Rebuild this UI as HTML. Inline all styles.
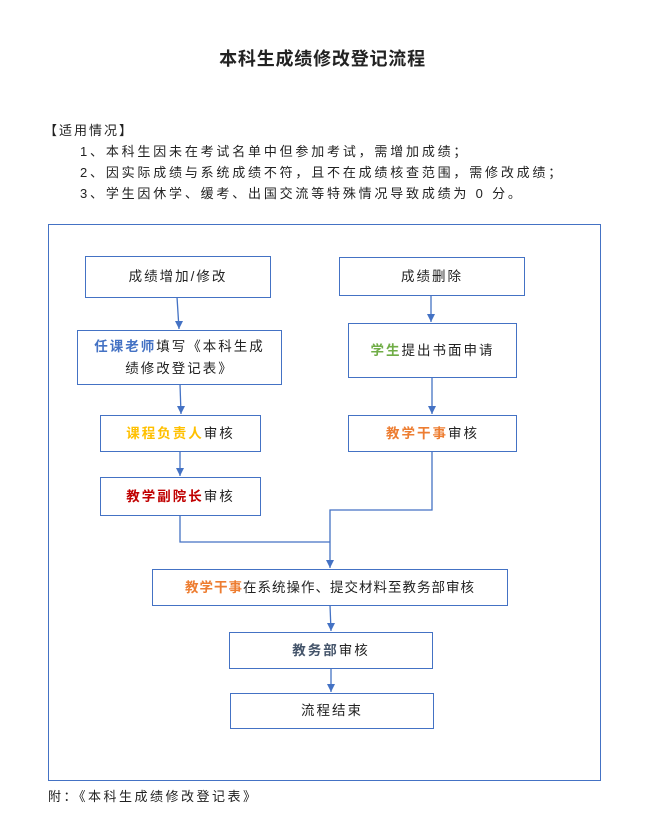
<!DOCTYPE html>
<html><head><meta charset="utf-8"><style>
body{margin:0;width:645px;height:814px;background:#fff;font-family:"Liberation Sans","Noto Sans CJK SC",sans-serif;position:relative;overflow:hidden;color:#222}
.t{position:absolute;white-space:nowrap;font-size:13px;letter-spacing:2.8px}
.b{position:absolute;border:1.3px solid #4472c4;box-sizing:border-box;display:flex;align-items:center;justify-content:center;text-align:center;font-size:13.5px;letter-spacing:2px;line-height:22px;background:#fff}
.k{font-weight:bold}
</style></head><body>
<div class="t" style="left:0;width:645px;text-align:center;top:45px;font-size:18px;font-weight:bold;letter-spacing:0.8px">本科生成绩修改登记流程</div>
<div class="t" style="left:44px;top:120px;letter-spacing:2px">【适用情况】</div>
<div class="t" style="left:80px;top:141px">1、本科生因未在考试名单中但参加考试，需增加成绩；</div>
<div class="t" style="left:80px;top:162px">2、因实际成绩与系统成绩不符，且不在成绩核查范围，需修改成绩；</div>
<div class="t" style="left:80px;top:183px">3、学生因休学、缓考、出国交流等特殊情况导致成绩为 0 分。</div>
<div style="position:absolute;left:48px;top:224px;width:553px;height:557px;border:1.3px solid #4472c4;box-sizing:border-box"></div>
<svg style="position:absolute;left:0;top:0" width="645" height="814">
<defs><marker id="a" markerWidth="8" markerHeight="8" refX="4" refY="8" orient="0" markerUnits="userSpaceOnUse"><path d="M0,0 L8,0 L4,8z" fill="#4472c4"/></marker></defs>
<g stroke="#4472c4" stroke-width="1.3" fill="none">
<path d="M177,297 L179,329" marker-end="url(#a)"/>
<path d="M180,384 L181,414" marker-end="url(#a)"/>
<path d="M180,451 L180,476" marker-end="url(#a)"/>
<path d="M431,295 L431,322" marker-end="url(#a)"/>
<path d="M432,377 L432,414" marker-end="url(#a)"/>
<path d="M180,515 L180,542 L330,542"/>
<path d="M432,451 L432,510 L330,510 L330,568" marker-end="url(#a)"/>
<path d="M330,605 L331,631" marker-end="url(#a)"/>
<path d="M331,668 L331,692" marker-end="url(#a)"/>
</g></svg>
<div class="b" style="left:85px;top:256px;width:186px;height:42px">成绩增加/修改</div>
<div class="b" style="left:339px;top:257px;width:186px;height:39px">成绩删除</div>
<div class="b" style="left:77px;top:330px;width:205px;height:55px"><span><span class="k" style="color:#4472c4">任课老师</span>填写《本科生成<br>绩修改登记表》</span></div>
<div class="b" style="left:348px;top:323px;width:169px;height:55px"><span><span class="k" style="color:#70ad47">学生</span>提出书面申请</span></div>
<div class="b" style="left:100px;top:415px;width:161px;height:37px"><span><span class="k" style="color:#ffc000">课程负责人</span>审核</span></div>
<div class="b" style="left:348px;top:415px;width:169px;height:37px"><span><span class="k" style="color:#ed7d31">教学干事</span>审核</span></div>
<div class="b" style="left:100px;top:477px;width:161px;height:39px"><span><span class="k" style="color:#c00000">教学副院长</span>审核</span></div>
<div class="b" style="left:152px;top:569px;width:356px;height:37px;letter-spacing:1px"><span><span class="k" style="color:#ed7d31">教学干事</span>在系统操作、提交材料至教务部审核</span></div>
<div class="b" style="left:229px;top:632px;width:204px;height:37px"><span><span class="k" style="color:#44546a">教务部</span>审核</span></div>
<div class="b" style="left:230px;top:693px;width:204px;height:36px">流程结束</div>
<div class="t" style="left:48px;top:786px;letter-spacing:2.5px">附：《本科生成绩修改登记表》</div>
</body></html>
